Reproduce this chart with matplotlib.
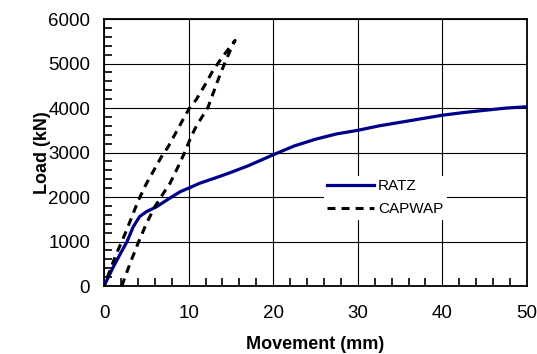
import numpy as np
import matplotlib
matplotlib.use("Agg")
import matplotlib.pyplot as plt
from matplotlib.ticker import MultipleLocator

plt.rcParams['font.family'] = ['Liberation Sans', 'DejaVu Sans']

# RATZ load-movement curve
ratz_mm = [0, 1.1, 2.0, 2.7, 3.45, 4.2, 5, 6.2, 7.4, 9, 10, 11.3, 13, 14.8, 17,
           20, 22.5, 25, 27.5, 30, 32.5, 35, 37.5, 40, 42.5, 45, 47.5, 50]
ratz_kn = [0, 430, 750, 990, 1330, 1560, 1670, 1780, 1930, 2120, 2200, 2310,
           2420, 2540, 2700, 2950, 3150, 3300, 3420, 3500, 3600, 3680, 3760,
           3840, 3900, 3950, 4000, 4030]

# CAPWAP simulated curve (lower branch up to peak, then upper branch back to 0)
capwap_mm = [2.1, 3.06, 4, 5, 6, 7, 7.8, 8.75, 9.5, 10.3, 10.9, 12.3, 13.45,
             14.4, 15.4, 15.5, 15.2, 14, 12.9, 11.9, 10.9, 10.1, 9.1, 7.6, 6.8,
             5.8, 5, 4, 3.45, 2.5, 1.3, 0]
capwap_kn = [0, 500, 950, 1400, 1780, 2080, 2310, 2680, 2990, 3360, 3590, 4020,
             4620, 5075, 5490, 5520, 5450, 5150, 4850, 4510, 4190, 4000, 3660,
             3135, 2910, 2570, 2300, 1900, 1630, 1180, 650, 0]

fig = plt.figure(figsize=(5.37, 3.54), dpi=100)
ax = fig.add_axes([0.1937, 0.192, 0.7877, 0.754])

ax.plot(ratz_mm, ratz_kn, color='#00008B', lw=2.3, label='RATZ', zorder=3)
ax.plot(capwap_mm, capwap_kn, color='black', lw=2.2, ls=(0, (2.6, 2.0)),
        label='CAPWAP', zorder=3)

ax.set_xlim(0, 50)
ax.set_ylim(0, 6000)
ax.xaxis.set_major_locator(MultipleLocator(10))
ax.yaxis.set_major_locator(MultipleLocator(1000))
ax.xaxis.set_minor_locator(MultipleLocator(2))
ax.yaxis.set_minor_locator(MultipleLocator(200))
ax.grid(True, which='major', color='black', lw=0.8)
# major ticks hidden (gridlines mark them), minor ticks point inward
ax.tick_params(which='major', direction='in', length=0, labelsize=13.5)
ax.tick_params(axis='x', which='major', pad=14)
ax.tick_params(axis='y', which='major', pad=10)
ax.tick_params(which='minor', direction='in', length=6, width=1.2,
               color='black')
for s in ax.spines.values():
    s.set_linewidth(1.3)

ax.set_xlabel('Movement (mm)', fontsize=13, fontweight='bold', labelpad=10)
ax.set_ylabel('Load (kN)', fontsize=13, fontweight='bold', labelpad=-2)

leg = ax.legend(loc='upper left', bbox_to_anchor=(0.502, 0.44), frameon=True,
                fontsize=11, handlelength=3.1, handletextpad=0.25,
                borderpad=0.2, labelspacing=0.6, fancybox=False)
leg.get_frame().set_edgecolor('none')
leg.get_frame().set_facecolor('white')
leg.get_frame().set_alpha(1)

fig.savefig('out.png', dpi=100)
